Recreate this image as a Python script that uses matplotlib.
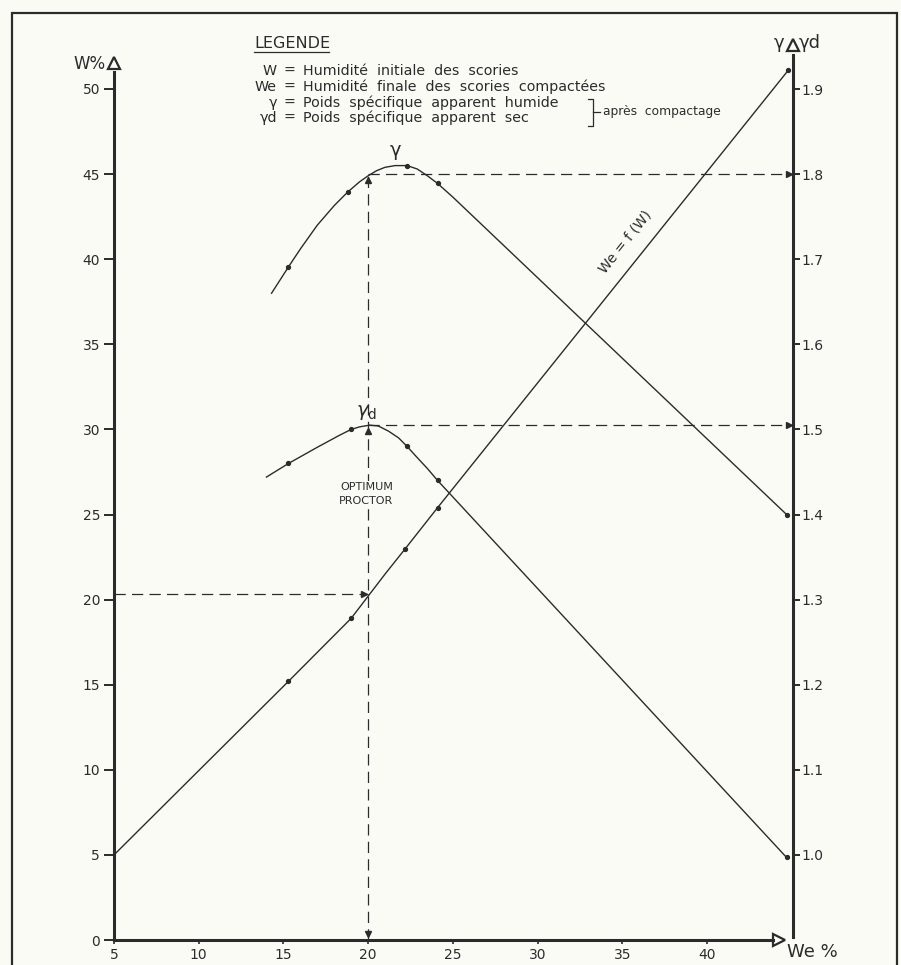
import matplotlib
matplotlib.use("Agg")
import matplotlib.pyplot as plt
from matplotlib.lines import Line2D
from matplotlib.patches import Rectangle

plt.rcParams["font.family"] = ["DejaVu Sans"]
plt.rcParams["mathtext.fontset"] = "dejavusans"

BG = "#fbfbf6"
INK = "#2b2b2b"

# ------------------------------------------------------------------
# Data
# ------------------------------------------------------------------
# We = f(W)  (x = We %, y = W %)
we_line_x = [5.0, 15.3, 17.5, 19.0, 20.0, 21.0, 22.2, 24.1, 44.8]
we_line_w = [5.0, 15.2, 17.4, 18.9, 20.2, 21.5, 23.0, 25.4, 51.1]
we_dots_x = [15.3, 19.0, 22.2, 24.1, 44.8]
we_dots_w = [15.2, 18.9, 23.0, 25.4, 51.1]

# gamma (wet unit weight) curve, right axis
gamma_line_x = [14.3, 15.3, 16.0, 17.0, 18.0, 18.8, 19.5, 20.0, 20.5, 21.0,
                21.6, 22.3, 22.9, 23.5, 24.1, 25.0, 44.7]
gamma_line_y = [1.660, 1.691, 1.712, 1.740, 1.763, 1.779, 1.791, 1.798, 1.804,
                1.808, 1.810, 1.810, 1.806, 1.798, 1.789, 1.773, 1.400]
gamma_dots_x = [15.3, 18.8, 22.3, 24.1, 44.7]
gamma_dots_y = [1.691, 1.779, 1.810, 1.789, 1.400]

# gamma_d (dry unit weight) curve, right axis
gammad_line_x = [14.0, 15.3, 17.0, 18.3, 19.0, 19.5, 20.1, 20.6, 21.2, 21.8,
                 22.3, 22.8, 23.5, 24.1, 44.7]
gammad_line_y = [1.444, 1.460, 1.479, 1.493, 1.500, 1.503, 1.505, 1.504, 1.498,
                 1.490, 1.480, 1.469, 1.454, 1.440, 0.997]
gammad_dots_x = [15.3, 19.0, 22.3, 24.1, 44.7]
gammad_dots_y = [1.460, 1.500, 1.480, 1.440, 0.997]

# optimum proctor construction
OPT_WE = 20.0
OPT_W = 20.3
OPT_GAMMA = 1.80
OPT_GAMMA_D = 1.505

w_ticks = list(range(0, 51, 5))
we_ticks = list(range(5, 41, 5))
g_ticks = [1.0, 1.1, 1.2, 1.3, 1.4, 1.5, 1.6, 1.7, 1.8, 1.9]

XMIN, XMAX = 5.0, 45.08
WMAX = 53.0


def g_to_w(g):
    return (g - 0.9) * 50.0


# pixel helpers for figure-level annotations
FW, FH = 901, 965


def fx(px):
    return px / FW


def fy(py):
    return 1 - py / FH


fig = plt.figure(figsize=(FW / 100, FH / 100), dpi=100, facecolor=BG)
ax = fig.add_axes([fx(114), fy(940), (793 - 114) / FW, (WMAX * 17.02) / FH])
ax.set_facecolor(BG)
ax.set_xlim(XMIN, XMAX)
ax.set_ylim(0, WMAX)
ax2 = ax.twinx()
ax2.set_ylim(0.9, 0.9 + WMAX / 50.0)

# ---- spines / axes ------------------------------------------------
for s in ["top", "right"]:
    ax.spines[s].set_visible(False)
for s in ["top", "left", "bottom"]:
    ax2.spines[s].set_visible(False)
ax.spines["left"].set_bounds(0, 51.0)
ax.spines["bottom"].set_bounds(XMIN, 43.9)
ax2.spines["right"].set_bounds(0.903, 1.94)
for sp in [ax.spines["left"], ax.spines["bottom"], ax2.spines["right"]]:
    sp.set_linewidth(2.2)
    sp.set_color(INK)

ax.set_yticks(w_ticks)
ax.set_xticks(we_ticks)
ax2.set_yticks(g_ticks)
ax2.set_yticklabels([f"{g:.1f}" for g in g_ticks])
ax.tick_params(axis="y", direction="out", length=7, width=1.4, pad=3,
               labelsize=10, colors=INK)
ax.tick_params(axis="x", direction="out", length=3, width=1.2, pad=3,
               labelsize=10, colors=INK)
ax2.tick_params(axis="y", direction="out", length=5, width=1.4, pad=1,
                labelsize=10, colors=INK)

# hollow arrow heads at axis ends
ax.plot([XMIN], [51.5], marker="^", ms=9, mfc=BG, mec=INK, mew=1.6, clip_on=False)
ax.plot([44.26], [0], marker=">", ms=9, mfc=BG, mec=INK, mew=1.6, clip_on=False)
ax.plot([XMAX], [52.6], marker="^", ms=9, mfc=BG, mec=INK, mew=1.6, clip_on=False)

# ---- curves -------------------------------------------------------
ax.plot(we_line_x, we_line_w, color=INK, lw=1.0)
ax.plot(we_dots_x, we_dots_w, "o", color=INK, ms=2.8)
ax2.plot(gamma_line_x, gamma_line_y, color=INK, lw=1.0)
ax2.plot(gamma_dots_x, gamma_dots_y, "o", color=INK, ms=2.8)
ax2.plot(gammad_line_x, gammad_line_y, color=INK, lw=1.0)
ax2.plot(gammad_dots_x, gammad_dots_y, "o", color=INK, ms=2.8)

# ---- optimum construction (dashed) -------------------------------
dash = (0, (9, 5))
ax.plot([OPT_WE, OPT_WE], [0, g_to_w(OPT_GAMMA)], color=INK, lw=0.9, ls=dash)
ax.plot([XMIN, OPT_WE], [OPT_W, OPT_W], color=INK, lw=0.9, ls=dash)
ax2.plot([OPT_WE, XMAX], [OPT_GAMMA, OPT_GAMMA], color=INK, lw=0.9, ls=dash)
ax2.plot([OPT_WE, XMAX], [OPT_GAMMA_D, OPT_GAMMA_D], color=INK, lw=0.9, ls=dash)
# small filled arrow heads
ax.plot([OPT_WE], [0.35], marker="v", ms=5, color=INK, clip_on=False)
ax.plot([OPT_WE], [g_to_w(OPT_GAMMA) - 0.35], marker="^", ms=5, color=INK)
ax.plot([OPT_WE], [g_to_w(OPT_GAMMA_D) - 0.35], marker="^", ms=5, color=INK)
ax.plot([OPT_WE - 0.25], [OPT_W], marker=">", ms=5, color=INK)
ax2.plot([XMAX - 0.25], [OPT_GAMMA], marker=">", ms=5, color=INK, clip_on=False)
ax2.plot([XMAX - 0.25], [OPT_GAMMA_D], marker=">", ms=5, color=INK, clip_on=False)

# ---- labels on the plot -------------------------------------------
ax.text(21.6, 46.4, "γ", fontsize=14, ha="center", va="center", color=INK)
ax.text(19.9, 31.0, r"$\gamma_{\rm d}$", fontsize=14, ha="center", va="center", color=INK)
ax.text(19.9, 26.2, "OPTIMUM\nPROCTOR", fontsize=8, ha="center", va="center",
        color=INK, linespacing=1.5,
        bbox=dict(facecolor=BG, edgecolor="none", pad=1))
ax.text(35.2, 41.0, "We = f (W)", fontsize=10, rotation=51.5, ha="center",
        va="center", color=INK, rotation_mode="anchor")

# axis titles
fig.text(fx(106), fy(64), "W%", fontsize=12, ha="right", va="center", color=INK)
fig.text(fx(784), fy(43), "γ", fontsize=13, ha="right", va="center", color=INK)
fig.text(fx(799), fy(43), "γd", fontsize=13, ha="left", va="center", color=INK)
fig.text(fx(787), fy(952), "We %", fontsize=13, ha="left", va="center", color=INK)

# ---- legend block -------------------------------------------------
fig.text(fx(254), fy(43), "LEGENDE", fontsize=11.5, ha="left", va="center", color=INK)
fig.add_artist(Line2D([fx(254), fx(329)], [fy(52), fy(52)], color=INK, lw=0.9))

legend_keys = ["W", "We", "γ", "γd"]
legend_txt = [
    "Humidité  initiale  des  scories",
    "Humidité  finale  des  scories  compactées",
    "Poids  spécifique  apparent  humide",
    "Poids  spécifique  apparent  sec",
]
legend_y = [71, 87, 103, 118]
for key, txt, py in zip(legend_keys, legend_txt, legend_y):
    fig.text(fx(277), fy(py), key, fontsize=10.3, ha="right", va="center", color=INK)
    fig.text(fx(289), fy(py), "=", fontsize=10.3, ha="center", va="center", color=INK)
    fig.text(fx(303), fy(py), txt, fontsize=10.3, ha="left", va="center", color=INK)

# bracket "après compactage"
fig.add_artist(Line2D([fx(588), fx(593), fx(593), fx(588)],
                      [fy(99), fy(99), fy(126), fy(126)], color=INK, lw=0.9))
fig.add_artist(Line2D([fx(593), fx(600)], [fy(112), fy(112)], color=INK, lw=0.9))
fig.text(fx(603), fy(112), "après  compactage", fontsize=8.8, ha="left",
         va="center", color=INK)

# frame of the drawing
fig.add_artist(Rectangle((fx(12), -0.05), fx(897) - fx(12), fy(13) + 0.05,
                         transform=fig.transFigure, fill=False,
                         edgecolor=INK, lw=1.6))

fig.savefig("out.png", dpi=100, facecolor=BG)
